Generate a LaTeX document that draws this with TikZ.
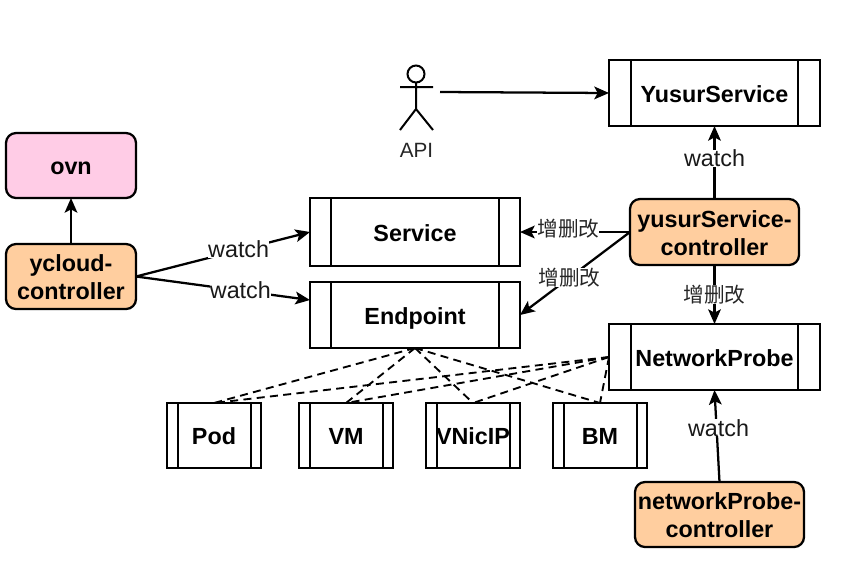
\documentclass[tikz,border=0pt]{standalone}
\usepackage{fontspec}
\setmainfont{Liberation Sans}
\newfontfamily\cjk{Noto Sans CJK SC}
\usetikzlibrary{arrows.meta,calc}
\newcommand{\lowtext}{\rule{0pt}{14pt}}
\tikzset{
  x=0.75pt,y=-0.75pt,
  every node/.style={inner sep=0pt,outer sep=0pt},
  base/.style={draw=black,line width=1.7pt,font=\fontsize{17.5}{21}\selectfont\bfseries,anchor=north west},
  proc/.style n args={3}{base,text height=17pt,text depth=3pt,minimum width=#1*0.75pt,minimum height=#2*0.75pt,
    path picture={\draw[line width=1.5pt]
      ($(path picture bounding box.north west)+(#3,0)$) -- ($(path picture bounding box.south west)+(#3,0)$)
      ($(path picture bounding box.north east)+(-#3,0)$) -- ($(path picture bounding box.south east)+(-#3,0)$);}},
  ctl/.style n args={3}{base,align=center,rounded corners=7.5pt,fill=#3,minimum width=#1*0.75pt,minimum height=#2*0.75pt},
  conn/.style={draw=black,line width=1.7pt,-{Stealth[length=11pt,width=9.5pt,inset=2.5pt]}},
  dashline/.style={draw=black,line width=1.4pt,dash pattern=on 6pt off 4pt},
  lbl/.style={fill=white,font=\fontsize{17.5}{21}\selectfont,text=black!90},
  cnlbl/.style={fill=white,font=\fontsize{15.5}{18}\selectfont\cjk,text=black!85},
}
\definecolor{ctlfill}{HTML}{FFCE9F}
\definecolor{ovnfill}{HTML}{FFCCE6}
\begin{document}
\begin{tikzpicture}
\useasboundingbox (0,0) rectangle (864,587);
% controllers
\node[ctl={130}{65}{ovnfill},text height=17pt,text depth=3pt] (ovn) at (6,133) {ovn};
\node[ctl={130}{65}{ctlfill}] (ycloud) at (6,244) {\lowtext ycloud-\\controller};
\node[ctl={169}{66}{ctlfill}] (ysc) at (630,199) {\lowtext yusurService-\\controller};
\node[ctl={169}{65}{ctlfill}] (npc) at (635,482) {\lowtext networkProbe-\\controller};
% processes
\node[proc={210}{68}{21}] (svc) at (310,198) {Service};
\node[proc={210}{66}{21}] (ep) at (310,282) {Endpoint};
\node[proc={211}{66}{22}] (ys) at (609,60) {YusurService};
\node[proc={211}{66}{22}] (np) at (609,324) {NetworkProbe};
\node[proc={94}{65}{10.5}] (pod) at (167,403) {Pod};
\node[proc={94}{65}{10.5}] (vm) at (299,403) {VM};
\node[proc={94}{65}{10.5}] (vnic) at (426,403) {VNicIP};
\node[proc={94}{65}{10.5}] (bm) at (553,403) {BM};
% actor
\draw[line width=1.5pt] (416,74) circle (8.5);
\draw[line width=1.5pt] (416,82.5) -- (416,109) (400,87) -- (433,87) (400,130) -- (416,109) -- (433,130);
\node[font=\fontsize{15.5}{18}\selectfont,text=black!85] (apilabel) at (416.5,150) {API};
\coordinate (hand) at (440,92);
\coordinate (epin) at ($(ep.north west)+(0,18)$);
% connectors
\draw[conn] (hand) -- (ys.west);
\draw[conn] (ycloud.north) -- (ovn.south);
\draw[conn] (ycloud.east) -- node[lbl,pos=0.59,yshift=0.5pt] (w1) {watch} (svc.west);
\draw[conn] (ycloud.east) -- node[lbl,pos=0.6] (w2) {watch} (epin);
\draw[conn] (ysc.north) -- node[lbl,pos=0.56] (w3) {watch} (ys.south);
\draw[conn] (npc.north) -- node[lbl,pos=0.59,xshift=1.5pt] (w4) {watch} (np.south);
\draw[conn] (ysc.west) -- node[cnlbl,pos=0.56,yshift=2.25pt] (c1) {增删改} (svc.east);
\draw[conn] (ysc.west) -- node[cnlbl,pos=0.55] (c2) {增删改} (ep.east);
\draw[conn] (ysc.south) -- node[cnlbl,pos=0.5] (c3) {增删改} (np.north);
% dashed
\foreach \t in {pod,vm,vnic,bm}{
  \draw[dashline] (ep.south) -- (\t.north);
  \draw[dashline] (np.west) -- (\t.north);
}
\end{tikzpicture}
\end{document}
